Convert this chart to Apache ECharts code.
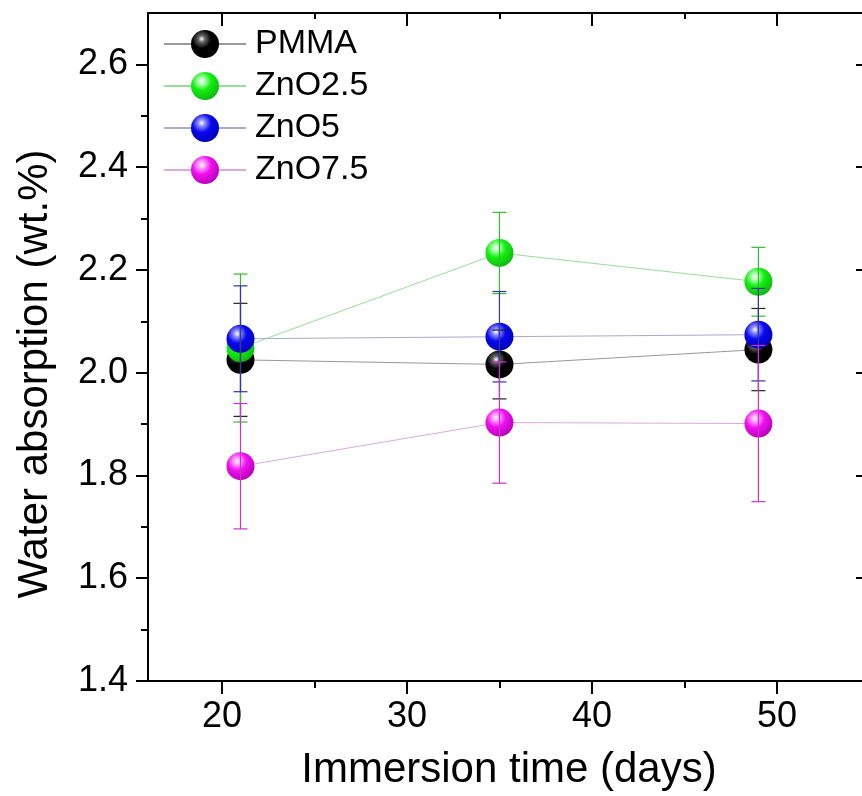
<!DOCTYPE html>
<html>
<head>
<meta charset="utf-8">
<script src="https://cdn.jsdelivr.net/npm/echarts@6/dist/echarts.min.js"></script>
<style>
  html, body { margin: 0; padding: 0; background: #fff; }
  #chart { width: 862px; height: 796px; }
</style>
</head>
<body>
<div id="chart"></div>
<script>
const days = [21, 35, 49]

const pmma = [2.025, 2.016, 2.045]
const pmmaErr = [0.11, 0.067, 0.08]
const zno25 = [2.048, 2.233, 2.177]
const zno25Err = [0.144, 0.079, 0.067]
const zno5 = [2.066, 2.070, 2.074]
const zno5Err = [0.103, 0.088, 0.09]
const zno75 = [1.818, 1.903, 1.901]
const zno75Err = [0.122, 0.118, 0.152]

const xMajor = [20, 30, 40, 50]
const xMinor = [25, 35, 45]
const yMajor = [1.4, 1.6, 1.8, 2.0, 2.2, 2.4, 2.6]
const yMinor = [1.5, 1.7, 1.9, 2.1, 2.3, 2.5]

const FONT = 'Arial, "Liberation Sans", sans-serif'

const groups = [
  { name: 'PMMA', values: pmma, err: pmmaErr, color: '#000000', light: '#666666', dark: '#000000', line: '#999999', bar: '#222222' },
  { name: 'ZnO2.5', values: zno25, err: zno25Err, color: '#11f011', light: '#b0ffb0', dark: '#10b010', line: '#99dd99', bar: '#33bb33' },
  { name: 'ZnO5', values: zno5, err: zno5Err, color: '#0808f0', light: '#9090ff', dark: '#0000b0', line: '#aaaacc', bar: '#3333aa' },
  { name: 'ZnO7.5', values: zno75, err: zno75Err, color: '#f010f0', light: '#ffa0ff', dark: '#b000b0', line: '#ddaadd', bar: '#cc33cc' },
]

function sphere(g) {
  return {
    type: 'radial',
    x: 0.38,
    y: 0.32,
    r: 0.75,
    colorStops: [
      { offset: 0, color: '#ffffff' },
      { offset: 0.16, color: g.light },
      { offset: 0.45, color: g.color },
      { offset: 1, color: g.dark },
    ],
  }
}

function errorSeries(g) {
  return {
    type: 'custom',
    name: g.name + ' err',
    z: 5,
    silent: true,
    data: days.map((d, i) => [d, g.values[i] - g.err[i], g.values[i] + g.err[i]]),
    renderItem: function (params, api) {
      const lo = api.coord([api.value(0), api.value(1)])
      const hi = api.coord([api.value(0), api.value(2)])
      const w = 7
      const style = { stroke: g.bar, lineWidth: 1.2, fill: null }
      return {
        type: 'group',
        children: [
          { type: 'line', shape: { x1: lo[0], y1: lo[1], x2: hi[0], y2: hi[1] }, style: style },
          { type: 'line', shape: { x1: lo[0] - w, y1: lo[1], x2: lo[0] + w, y2: lo[1] }, style: style },
          { type: 'line', shape: { x1: hi[0] - w, y1: hi[1], x2: hi[0] + w, y2: hi[1] }, style: style },
        ],
      }
    },
  }
}

const axisLineStyle = { color: '#000', width: 2 }
const X_MIN = 16
const X_MAX = 54.6

const myChart = echarts.init(document.getElementById('chart'))
myChart.setOption({
  animation: false,
  backgroundColor: '#fff',
  textStyle: { fontFamily: FONT },
  grid: { left: 148, top: 13, right: 0, bottom: 115, containLabel: false },
  legend: {
    left: 163,
    top: 27,
    padding: 0,
    orient: 'vertical',
    itemWidth: 82,
    itemHeight: 35,
    itemGap: 8,
    data: groups.map(g => g.name),
    textStyle: { fontSize: 34, color: '#000', fontFamily: FONT, padding: [0, 0, 0, 4] },
  },
  xAxis: [
    {
      type: 'value', position: 'bottom', min: X_MIN, max: X_MAX,
      name: 'Immersion time (days)', nameLocation: 'middle', nameGap: 68,
      nameTextStyle: { fontSize: 42, color: '#000', fontFamily: FONT, padding: [0, 0, 0, 8] },
      axisLine: { lineStyle: axisLineStyle },
      axisTick: { show: true, inside: false, length: 13, lineStyle: { width: 2, color: '#000' }, customValues: xMajor },
      axisLabel: { fontSize: 36, color: '#000', margin: 18, customValues: xMajor },
      splitLine: { show: false },
    },
    {
      type: 'value', position: 'bottom', min: X_MIN, max: X_MAX,
      axisLine: { show: false },
      axisTick: { show: true, inside: false, length: 7, lineStyle: { width: 2, color: '#000' }, customValues: xMinor },
      axisLabel: { show: false },
      splitLine: { show: false },
    },
    {
      type: 'value', position: 'top', min: X_MIN, max: X_MAX,
      axisLine: { lineStyle: axisLineStyle },
      axisTick: { show: true, inside: true, length: 13, lineStyle: { width: 2, color: '#000' }, customValues: xMajor },
      axisLabel: { show: false },
      splitLine: { show: false },
    },
    {
      type: 'value', position: 'top', min: X_MIN, max: X_MAX,
      axisLine: { show: false },
      axisTick: { show: true, inside: true, length: 6, lineStyle: { width: 2, color: '#000' }, customValues: xMinor },
      axisLabel: { show: false },
      splitLine: { show: false },
    },
  ],
  yAxis: [
    {
      type: 'value', position: 'left', min: 1.4, max: 2.7,
      name: 'Water absorption (wt.%)', nameLocation: 'middle', nameGap: 92,
      nameTextStyle: { fontSize: 42, color: '#000', fontFamily: FONT, padding: [0, 54, 0, 0] },
      axisLine: { show: true, lineStyle: axisLineStyle },
      axisTick: { show: true, inside: false, length: 12, lineStyle: { width: 2, color: '#000' }, customValues: yMajor },
      axisLabel: { fontSize: 36, color: '#000', margin: 20, customValues: yMajor, formatter: v => v.toFixed(1) },
      splitLine: { show: false },
    },
    {
      type: 'value', position: 'left', min: 1.4, max: 2.7,
      axisLine: { show: false },
      axisTick: { show: true, inside: false, length: 7, lineStyle: { width: 2, color: '#000' }, customValues: yMinor },
      axisLabel: { show: false },
      splitLine: { show: false },
    },
    {
      type: 'value', position: 'right', min: 1.4, max: 2.7,
      axisLine: { show: false },
      axisTick: { show: true, inside: true, length: 6, lineStyle: { width: 2, color: '#000' }, customValues: yMajor },
      axisLabel: { show: false },
      splitLine: { show: false },
    },
  ],
  series: groups.map(g => ({
    type: 'line',
    name: g.name,
    data: days.map((d, i) => [d, g.values[i]]),
    symbol: 'circle',
    symbolSize: 28,
    z: 3,
    itemStyle: { color: sphere(g), borderWidth: 0 },
    lineStyle: { color: g.line, width: 1 },
  })).concat(groups.map(errorSeries)),
})
</script>
</body>
</html>
